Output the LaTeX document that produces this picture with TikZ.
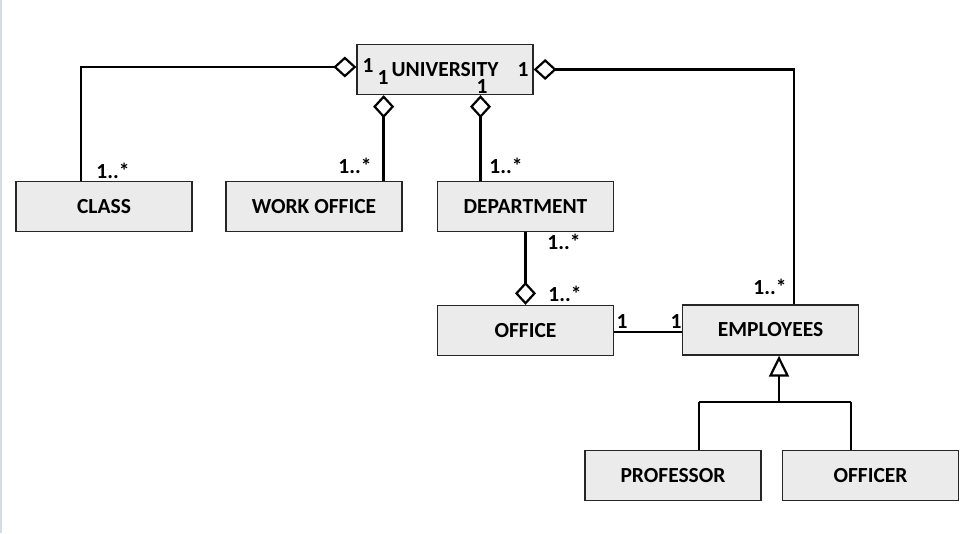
\documentclass[tikz,border=0pt]{standalone}
\usepackage{fontspec}
\setmainfont{Carlito}
\usetikzlibrary{arrows.meta}
\definecolor{boxfill}{HTML}{EBEBEB}
\definecolor{edgeblue}{HTML}{D3DDE5}
\begin{document}
\begin{tikzpicture}[x=1pt,y=-1pt,
  cls/.style={draw=black!85, line width=1.3pt, fill=boxfill, minimum width=176pt, minimum height=50pt, inner sep=0pt, font=\fontsize{21.5}{22}\selectfont\bfseries},
  conn/.style={line width=2.4pt, black},
  mult/.style={inner sep=0pt, font=\fontsize{21.5}{22}\selectfont\bfseries},
  agg/.style={-{Diamond[open,length=23pt,width=21pt,line width=2.2pt]}},
  aggs/.style={{Diamond[open,length=23pt,width=21pt,line width=2.2pt]}-},
  gen/.style={-{Triangle[open,length=21pt,width=20pt,line width=2.2pt]}}]
\useasboundingbox (0,0) rectangle (968,533);
\fill[white] (0,0) rectangle (968,533);
\draw[edgeblue, line width=1.5pt] (0.75,0) -- (0.75,533);

\node[cls] (univ) at (445,69.5) {UNIVERSITY};
\node[cls] (class) at (104,206.5) {CLASS};
\node[cls] (work) at (314,206.5) {WORK OFFICE};
\node[cls] (dept) at (525.5,206.5) {DEPARTMENT};
\node[cls] (office) at (525.5,330.5) {OFFICE};
\node[cls] (emp) at (770.5,330) {EMPLOYEES};
\node[cls] (prof) at (673,475.5) {PROFESSOR};
\node[cls] (officer) at (870.5,475.5) {OFFICER};

\coordinate (c1) at ([xshift=-23pt]class.north);
\coordinate (u1) at ([yshift=2.5pt]univ.west);
\draw[conn, agg] (c1) |- (u1);

\coordinate (w1) at ([xshift=-19pt]work.north east);
\draw[conn, agg] (w1) -- (w1 |- univ.south);

\coordinate (d1) at ([xshift=-45pt]dept.north);
\draw[conn, agg] (d1) -- (d1 |- univ.south);

\coordinate (e1) at ([xshift=23.5pt]emp.north);
\draw[conn, aggs] (univ.east) -| (e1);

\draw[conn, agg] (dept.south) -- (office.north);

\coordinate (o1) at ([yshift=-1.5pt]office.east);
\draw[conn] (o1) -- (o1 -| emp.west);

\coordinate (g) at (779,402);
\coordinate (gl) at (699,402);
\coordinate (gr) at (851,402);
\draw[conn, gen] (g) -- (g |- emp.south);
\draw[conn] (gl) -- (gr);
\draw[conn] (gl) -- (gl |- prof.north);
\draw[conn] (gr) -- (gr |- officer.north);

\node[mult] (m1) at (368,66) {1};
\node[mult] (m2) at (383,78) {1};
\node[mult] (m3) at (482,87) {1};
\node[mult] (m4) at (523,70) {1};
\node[mult] (m5) at (113,171) {1..*};
\node[mult] (m6) at (355,166) {1..*};
\node[mult] (m7) at (506,166) {1..*};
\node[mult] (m8) at (564,242) {1..*};
\node[mult] (m9) at (565,294) {1..*};
\node[mult] (m10) at (622,322) {1};
\node[mult] (m11) at (676,322) {1};
\node[mult] (m12) at (770,287) {1..*};
\end{tikzpicture}
\end{document}
